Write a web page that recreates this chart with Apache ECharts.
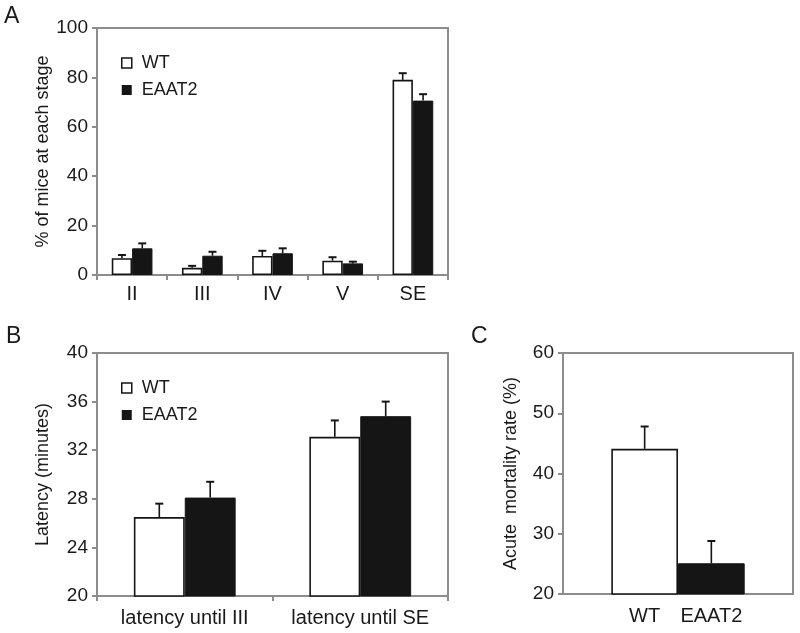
<!DOCTYPE html>
<html>
<head>
<meta charset="utf-8">
<script src="https://cdn.jsdelivr.net/npm/echarts@6/dist/echarts.min.js"></script>
<style>html,body{margin:0;padding:0;background:#fff;}#c{width:800px;height:633px;}</style>
</head>
<body>
<div id="c"></div>
<script>
// ---- Data ----
const stagesA = ['II', 'III', 'IV', 'V', 'SE'];
const wtA = [6.8, 2.9, 7.7, 5.8, 79.0];
const wtAErr = [1.3, 0.8, 2.1, 1.4, 2.7];
const eaatA = [10.8, 7.8, 8.8, 4.7, 70.6];
const eaatAErr = [2.0, 1.6, 2.0, 0.7, 2.6];

const catsB = ['latency until III', 'latency until SE'];
const wtB = [26.5, 33.1];
const wtBErr = [1.1, 1.35];
const eaatB = [28.1, 34.8];
const eaatBErr = [1.3, 1.2];

const catsC = [''];
const wtC = [44.1];
const wtCErr = [3.7];
const eaatC = [25.1];
const eaatCErr = [3.7];

// ---- Style ----
const FONT = 'Liberation Sans, Arial, sans-serif';
const TXT = '#1a1a1a';
const AX = '#8c8c8c';
const BLK = '#151515';
const GAP = 0.42;

const chart = echarts.init(document.getElementById('c'), null, {renderer: 'canvas'});

function errRender(sign) {
  return function (params, api) {
    const cat = api.value(0), val = api.value(1), err = api.value(2);
    const band = api.size([1, 0])[0];
    const bw = band * (1 - GAP) / 2;
    const p = api.coord([cat, val]);
    const x = p[0] + sign * bw / 2;
    const yTop = api.coord([cat, val + err])[1];
    return {
      type: 'group',
      children: [
        {type: 'line', shape: {x1: x, y1: p[1], x2: x, y2: yTop}, style: {stroke: BLK, lineWidth: 1.6}},
        {type: 'line', shape: {x1: x - 4, y1: yTop, x2: x + 4, y2: yTop}, style: {stroke: BLK, lineWidth: 2}}
      ]
    };
  };
}

function barSeries(name, data, idx, isWT, label) {
  const s = {
    name: name, type: 'bar', xAxisIndex: idx, yAxisIndex: idx,
    data: data, barGap: '0%', barCategoryGap: (GAP * 100) + '%',
    itemStyle: isWT ? {color: '#ffffff', borderColor: BLK, borderWidth: 1.6} : {color: BLK, borderColor: BLK, borderWidth: 1},
    z: 2
  };
  if (label) {
    s.label = {show: true, position: 'bottom', distance: 12, formatter: '{a}', fontFamily: FONT, fontSize: 20, color: TXT};
  }
  return s;
}
function errSeries(vals, errs, idx, sign) {
  return {
    type: 'custom', xAxisIndex: idx, yAxisIndex: idx, z: 3,
    renderItem: errRender(sign), encode: {x: 0, y: 1},
    data: vals.map((v, i) => [i, v, errs[i]])
  };
}

function xAxis(idx, data, showLabels, showTicks, margin) {
  return {
    type: 'category', gridIndex: idx, data: data,
    axisLine: {lineStyle: {color: AX, width: 2}},
    axisTick: {show: showTicks, length: 5, lineStyle: {color: AX, width: 2}},
    axisLabel: {show: showLabels, interval: 0, color: TXT, fontFamily: FONT, fontSize: 20, margin: margin},
    splitLine: {show: false}
  };
}
function yAxis(idx, min, max, interval, name, gap) {
  return {
    type: 'value', gridIndex: idx, min: min, max: max, interval: interval,
    name: name, nameLocation: 'middle', nameGap: gap,
    nameTextStyle: {color: TXT, fontFamily: FONT, fontSize: 18},
    axisLine: {show: true, lineStyle: {color: AX, width: 2}},
    axisTick: {show: true, length: 5, lineStyle: {color: AX, width: 2}},
    axisLabel: {color: TXT, fontFamily: FONT, fontSize: 19, margin: 9},
    splitLine: {show: false}
  };
}

const legendData = [
  {name: 'WT', icon: 'rect', itemStyle: {color: '#fff', borderColor: BLK, borderWidth: 1.5}},
  {name: 'EAAT2', icon: 'rect', itemStyle: {color: BLK, borderColor: BLK, borderWidth: 0}}
];
function legend(top) {
  return {
    data: legendData, orient: 'vertical', left: 116, top: top,
    itemWidth: 10, itemHeight: 10, itemGap: 9, selectedMode: false,
    textStyle: {color: TXT, fontFamily: FONT, fontSize: 18, padding: [0, 0, 0, 5]}
  };
}

const option = {
  animation: false,
  backgroundColor: '#fff',
  textStyle: {fontFamily: FONT},
  grid: [
    {left: 97, top: 28, width: 351, height: 247, show: true, borderColor: AX, borderWidth: 2, containLabel: false},
    {left: 97, top: 353, width: 351, height: 243, show: true, borderColor: AX, borderWidth: 2, containLabel: false},
    {left: 563, top: 353, width: 230, height: 241, show: true, borderColor: AX, borderWidth: 2, containLabel: false}
  ],
  xAxis: [
    xAxis(0, stagesA, true, true, 9),
    xAxis(1, catsB, true, true, 12),
    xAxis(2, catsC, false, false, 12)
  ],
  yAxis: [
    yAxis(0, 0, 100, 20, '% of mice at each stage', 45),
    yAxis(1, 20, 40, 4, 'Latency (minutes)', 45),
    yAxis(2, 20, 60, 10, 'Acute  mortality rate (%)', 43)
  ],
  legend: [legend(49), legend(374)],
  graphic: [
    {type: 'text', left: 4, top: 5, style: {text: 'A', font: '23px ' + FONT, fill: TXT}},
    {type: 'text', left: 6, top: 325, style: {text: 'B', font: '23px ' + FONT, fill: TXT}},
    {type: 'text', left: 471, top: 325, style: {text: 'C', font: '23px ' + FONT, fill: TXT}}
  ],
  series: [
    barSeries('WT', wtA, 0, true),
    barSeries('EAAT2', eaatA, 0, false),
    errSeries(wtA, wtAErr, 0, -1),
    errSeries(eaatA, eaatAErr, 0, 1),
    barSeries('WT', wtB, 1, true),
    barSeries('EAAT2', eaatB, 1, false),
    errSeries(wtB, wtBErr, 1, -1),
    errSeries(eaatB, eaatBErr, 1, 1),
    barSeries('WT', wtC, 2, true, true),
    barSeries('EAAT2', eaatC, 2, false, true),
    errSeries(wtC, wtCErr, 2, -1),
    errSeries(eaatC, eaatCErr, 2, 1)
  ]
};
chart.setOption(option);
</script>
</body>
</html>
